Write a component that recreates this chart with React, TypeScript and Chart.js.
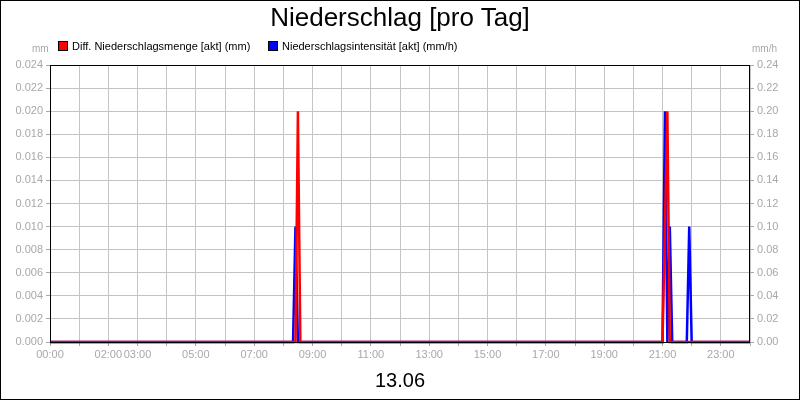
import { useEffect, useRef } from 'react';
import { Chart, registerables } from 'chart.js';

Chart.register(...registerables);

// Diff. Niederschlagsmenge [akt] (mm), left axis
const MENGE_TIMES = ['00:00', '08:25', '08:30', '08:35', '21:00', '21:10', '21:15', '24:00'];
const MENGE_MM = [0, 0, 0.02, 0, 0, 0.02, 0, 0];

// Niederschlagsintensität [akt] (mm/h), right axis
const INTENS_TIMES = ['00:00', '08:20', '08:25', '08:30', '21:00', '21:05', '21:10', '21:15', '21:20', '21:50', '21:55', '22:00', '24:00'];
const INTENS_MMH = [0, 0, 0.1, 0, 0, 0.2, 0, 0.1, 0, 0, 0.1, 0, 0];

const X_LABEL_HOURS = [0, 2, 3, 5, 7, 9, 11, 13, 15, 17, 19, 21, 23];

const FONT = 'Arial, "Liberation Sans", sans-serif';
const TICK_COLOR = '#a8a8a8';
const GRID_COLOR = '#c4c4c4';

const toHour = (t: string) => {
  const [h, m] = t.split(':').map(Number);
  return h + m / 60;
};

const pad2 = (n: number) => String(n).padStart(2, '0');

// black frame round the plot area, drawn over the lines like the original
const framePlugin = {
  id: 'frame',
  afterDatasetsDraw(chart: Chart) {
    const { ctx, chartArea: a } = chart;
    ctx.save();
    ctx.strokeStyle = '#000';
    ctx.lineWidth = 1;
    ctx.strokeRect(a.left + 0.5, a.top + 0.5, a.right - a.left - 1, a.bottom - a.top);
    ctx.restore();
  },
};

export default function App() {
  const canvasRef = useRef<HTMLCanvasElement>(null);

  useEffect(() => {
    document.body.style.margin = '0';
    if (!canvasRef.current) return;
    const chart = new Chart(canvasRef.current.getContext('2d')!, {
      type: 'line',
      data: {
        datasets: [
          {
            label: 'Diff. Niederschlagsmenge [akt] (mm)',
            data: MENGE_TIMES.map((t, i) => ({ x: toHour(t), y: MENGE_MM[i] })),
            borderColor: '#ff0000', borderWidth: 2.5, pointRadius: 0, tension: 0, yAxisID: 'y', clip: false,
          },
          {
            label: 'Niederschlagsintensität [akt] (mm/h)',
            data: INTENS_TIMES.map((t, i) => ({ x: toHour(t), y: INTENS_MMH[i] })),
            borderColor: '#0000ff', borderWidth: 2.5, pointRadius: 0, tension: 0, yAxisID: 'y1', clip: false,
          },
        ],
      },
      options: {
        animation: false, responsive: false, maintainAspectRatio: false,
        layout: { padding: { top: 65, left: 0, right: 0, bottom: 0 } },
        plugins: { legend: { display: false }, title: { display: false }, tooltip: { enabled: false } },
        scales: {
          x: {
            type: 'linear', min: 0, max: 24,
            afterFit: (s: any) => { s.height = 58; },
            ticks: {
              stepSize: 1, autoSkip: false, maxRotation: 0, color: TICK_COLOR, padding: 2,
              font: { family: FONT, size: 11 },
              callback: (v: any) => (X_LABEL_HOURS.includes(Number(v)) ? `${pad2(Number(v))}:00` : ''),
            },
            grid: { color: GRID_COLOR, tickLength: 4, tickColor: TICK_COLOR },
            border: { display: false },
          },
          y: {
            position: 'left', min: 0, max: 0.024,
            afterFit: (s: any) => { s.width = 50; },
            ticks: {
              stepSize: 0.002, color: TICK_COLOR, padding: 3, font: { family: FONT, size: 11 },
              callback: (v: any) => Number(v).toFixed(3),
            },
            grid: { color: GRID_COLOR, tickLength: 4, tickColor: TICK_COLOR },
            border: { display: false },
          },
          y1: {
            position: 'right', min: 0, max: 0.24,
            afterFit: (s: any) => { s.width = 50; },
            ticks: {
              stepSize: 0.02, color: TICK_COLOR, padding: 3, font: { family: FONT, size: 11 },
              callback: (v: any) => Number(v).toFixed(2),
            },
            grid: { drawOnChartArea: false, tickLength: 4, tickColor: TICK_COLOR },
            border: { display: false },
          },
        },
      },
      plugins: [framePlugin],
    });
    return () => { chart.destroy(); };
  }, []);

  const swatch = (color: string) => (
    <span style={{ display: 'inline-block', width: 8, height: 8, background: color, border: '1px solid #000', marginRight: 4, verticalAlign: 'middle' }} />
  );

  return (
    <div style={{ position: 'relative', width: 800, height: 400, background: '#fff', fontFamily: FONT, overflow: 'hidden' }}>
      <canvas ref={canvasRef} width={800} height={400} style={{ position: 'absolute', left: 0, top: 0, width: 800, height: 400 }} />
      <div style={{ position: 'absolute', left: 0, top: 2, width: 800, textAlign: 'center', fontSize: 26, color: '#000', lineHeight: '30px' }}>
        Niederschlag [pro Tag]
      </div>
      <div style={{ position: 'absolute', left: 58, top: 38, fontSize: 11, color: '#000', whiteSpace: 'nowrap', lineHeight: '14px' }}>
        {swatch('#ff0000')}<span style={{ verticalAlign: 'middle' }}>Diff. Niederschlagsmenge [akt] (mm)</span>
      </div>
      <div style={{ position: 'absolute', left: 268, top: 38, fontSize: 11, color: '#000', whiteSpace: 'nowrap', lineHeight: '14px' }}>
        {swatch('#0000ff')}<span style={{ verticalAlign: 'middle' }}>Niederschlagsintensität [akt] (mm/h)</span>
      </div>
      <div style={{ position: 'absolute', left: 32, top: 43, fontSize: 10, color: TICK_COLOR, lineHeight: '12px' }}>mm</div>
      <div style={{ position: 'absolute', left: 752, top: 43, fontSize: 10, color: TICK_COLOR, lineHeight: '12px' }}>mm/h</div>
      <div style={{ position: 'absolute', left: 0, top: 368, width: 800, textAlign: 'center', fontSize: 20, color: '#000', lineHeight: '24px' }}>
        13.06
      </div>
      <div style={{ position: 'absolute', left: 0, top: 0, width: 800, height: 400, boxSizing: 'border-box', border: '1px solid #000', pointerEvents: 'none' }} />
    </div>
  );
}
